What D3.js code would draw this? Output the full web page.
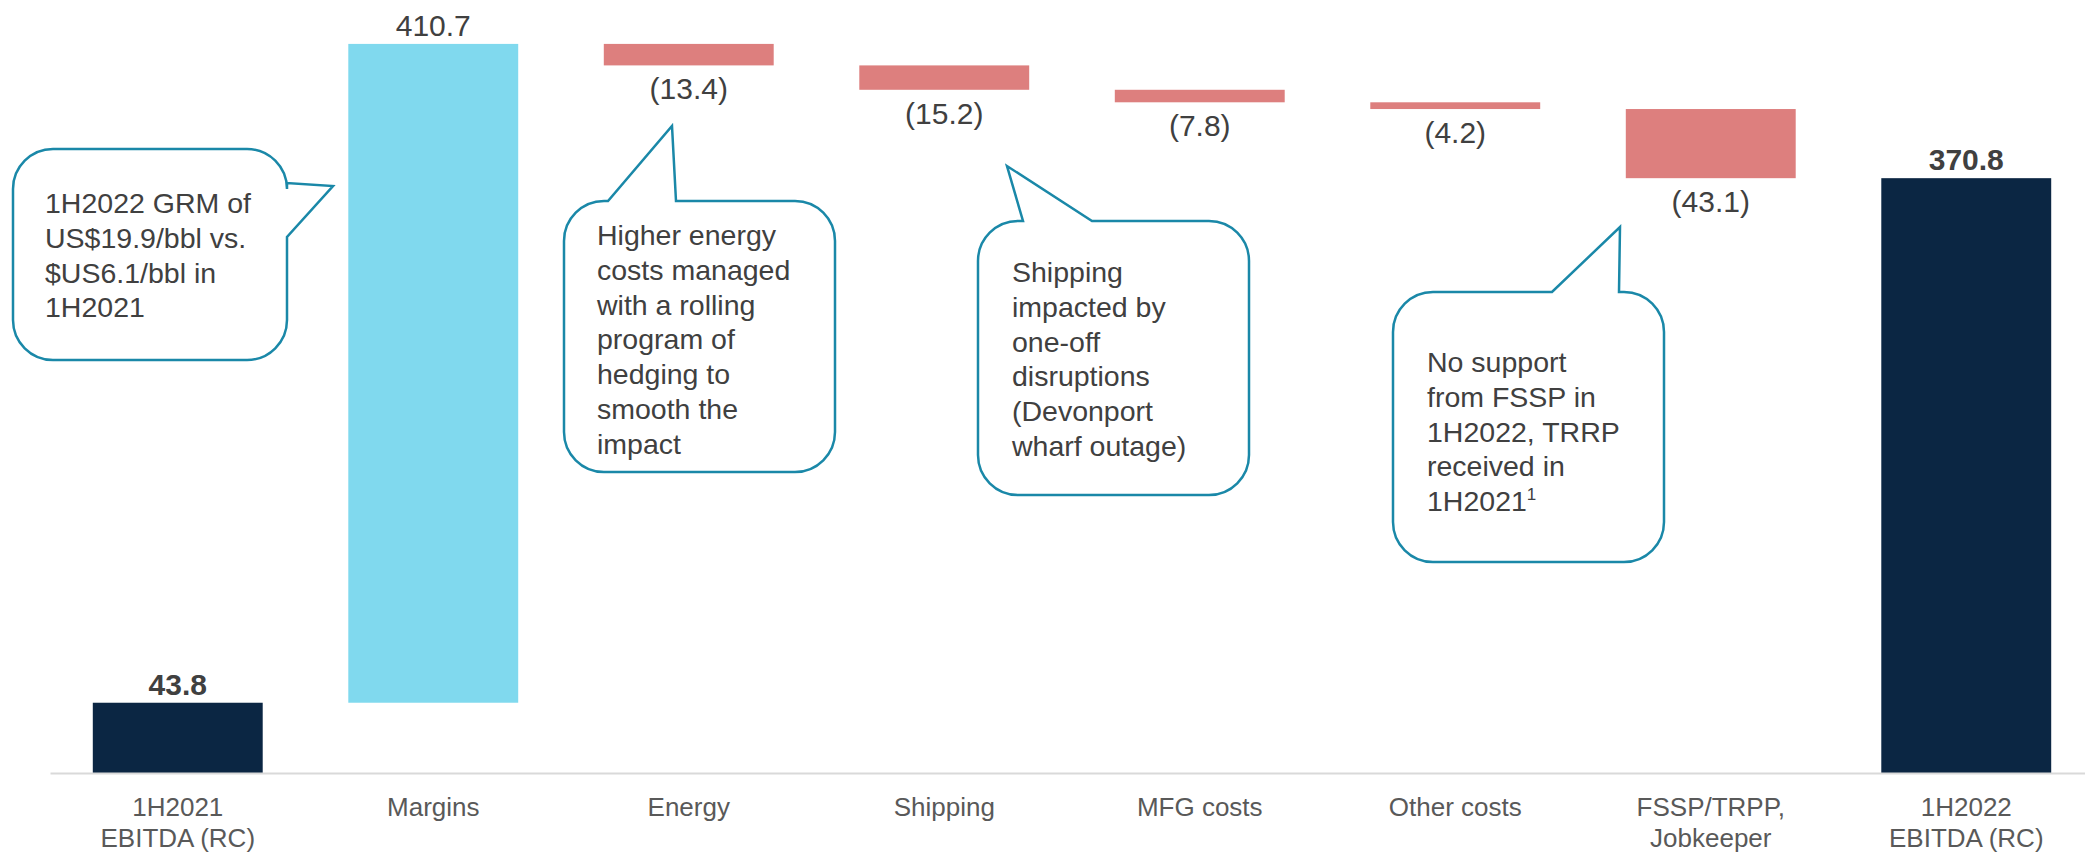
<!DOCTYPE html>
<html>
<head>
<meta charset="utf-8">
<script src="https://cdn.jsdelivr.net/npm/d3@7"></script>
<style>
  body { margin: 0; background: #fff; }
  svg { display: block; font-family: "Liberation Sans", Arial, sans-serif; }
</style>
</head>
<body>
<div class="container"></div>
<script>
var w = 2085;
var h = 853;

// data
var categories = ["1H2021|EBITDA (RC)", "Margins", "Energy", "Shipping", "MFG costs", "Other costs", "FSSP/TRPP,|Jobkeeper", "1H2022|EBITDA (RC)"];
var values = [43.8, 410.7, -13.4, -15.2, -7.8, -4.2, -43.1, 370.8];
var kinds = ["total", "up", "down", "down", "down", "down", "down", "total"];

var calloutTexts = [
  ["1H2022 GRM of", "US$19.9/bbl vs.", "$US6.1/bbl in", "1H2021"],
  ["Higher energy", "costs managed", "with a rolling", "program of", "hedging to", "smooth the", "impact"],
  ["Shipping", "impacted by", "one-off", "disruptions", "(Devonport", "wharf outage)"],
  ["No support", "from FSSP in", "1H2022, TRRP", "received in", "1H2021"]
];

var colors = { total: "#0b2643", up: "#80d9ee", down: "#dd7f7e" };

var canvas = d3.select(".container").append("svg")
  .attr("width", w)
  .attr("height", h);

var xScale = d3.scaleBand().domain(categories).range([50, 2094]).paddingInner(0.335).paddingOuter(0.1675);
var yScale = d3.scaleLinear().domain([0, 480]).range([773, 3]);

// waterfall steps
var cum = 0;
var steps = categories.map(function (c, i) {
  var v = values[i], y0, y1;
  if (kinds[i] == "total") { y0 = 0; y1 = v; cum = v; }
  else { y0 = cum; y1 = cum + v; cum = y1; }
  return { cat: c, v: v, kind: kinds[i], lo: Math.min(y0, y1), hi: Math.max(y0, y1) };
});

canvas.append("g").selectAll("rect").data(steps).enter().append("rect")
  .attr("x", (d) => xScale(d.cat))
  .attr("width", xScale.bandwidth())
  .attr("y", (d) => yScale(d.hi))
  .attr("height", (d) => yScale(d.lo) - yScale(d.hi))
  .attr("fill", (d) => colors[d.kind]);

// value labels
canvas.append("g").selectAll("text").data(steps).enter().append("text")
  .attr("x", (d) => xScale(d.cat) + xScale.bandwidth() / 2)
  .attr("y", (d) => d.kind == "down" ? yScale(d.lo) + 34 : yScale(d.hi) - 8)
  .attr("text-anchor", "middle")
  .attr("font-size", 30)
  .attr("font-weight", (d) => d.kind == "total" ? "bold" : "normal")
  .attr("fill", "#404040")
  .text((d) => d.kind == "down" ? "(" + Math.abs(d.v).toFixed(1) + ")" : d.v.toFixed(1));

// x axis
var xAxis = canvas.append("g")
  .attr("transform", "translate(0," + 773 + ")")
  .call(d3.axisBottom(xScale).tickSize(0).tickSizeOuter(0).tickPadding(0));
xAxis.select(".domain").attr("stroke", "#d9d9d9").attr("stroke-width", 2);
xAxis.selectAll(".tick text").each(function (d) {
  var t = d3.select(this).text("").attr("dy", null).attr("y", null)
    .attr("font-size", 26).attr("fill", "#595959")
    .attr("font-family", "Liberation Sans, Arial, sans-serif");
  d.split("|").forEach(function (line, i) {
    t.append("tspan").attr("x", 0).attr("y", 43 + i * 31).text(line);
  });
});

// callouts (annotation layout, pixels)
var callouts = [
  { box: [13, 149, 274, 211], side: "right", a: 183, b: 237, tip: [333, 186], tx: 45, ty: 203 },
  { box: [564, 201, 271, 271], side: "top", a: 608, b: 676, tip: [672, 126], tx: 597, ty: 235 },
  { box: [978, 221, 271, 274], side: "top", a: 1023, b: 1092, tip: [1007, 166], tx: 1012, ty: 272 },
  { box: [1393, 292, 271, 270], side: "top", a: 1552, b: 1619, tip: [1620, 227], tx: 1427, ty: 362 }
];

function bubble(c) {
  var x = c.box[0], y = c.box[1], bw = c.box[2], bh = c.box[3], r = 40;
  var p = d3.path();
  p.moveTo(x + r, y);
  if (c.side == "top") {
    p.lineTo(c.a, y);
    p.lineTo(c.tip[0], c.tip[1]);
    p.lineTo(c.b, y);
  }
  p.lineTo(x + bw - r, y);
  p.arcTo(x + bw, y, x + bw, y + r, r);
  if (c.side == "right") {
    p.lineTo(x + bw, c.a);
    p.lineTo(c.tip[0], c.tip[1]);
    p.lineTo(x + bw, c.b);
  }
  p.lineTo(x + bw, y + bh - r);
  p.arcTo(x + bw, y + bh, x + bw - r, y + bh, r);
  p.lineTo(x + r, y + bh);
  p.arcTo(x, y + bh, x, y + bh - r, r);
  p.lineTo(x, y + r);
  p.arcTo(x, y, x + r, y, r);
  p.closePath();
  return p.toString();
}

var notes = canvas.append("g").selectAll("g").data(callouts).enter().append("g");
notes.append("path")
  .attr("d", bubble)
  .attr("fill", "#fff")
  .attr("stroke", "#1a88a8")
  .attr("stroke-width", 2.5);

notes.each(function (c, i) {
  var g = d3.select(this);
  calloutTexts[i].forEach(function (line, j) {
    var t = g.append("text")
      .attr("x", c.tx)
      .attr("y", c.ty + j * 34.8 + 10)
      .attr("font-size", 28.5)
      .attr("fill", "#404040")
      .text(line);
    if (i == 3 && j == calloutTexts[i].length - 1) {
      t.append("tspan").attr("font-size", 17).attr("dy", -11).text("1");
    }
  });
});
</script>
</body>
</html>
